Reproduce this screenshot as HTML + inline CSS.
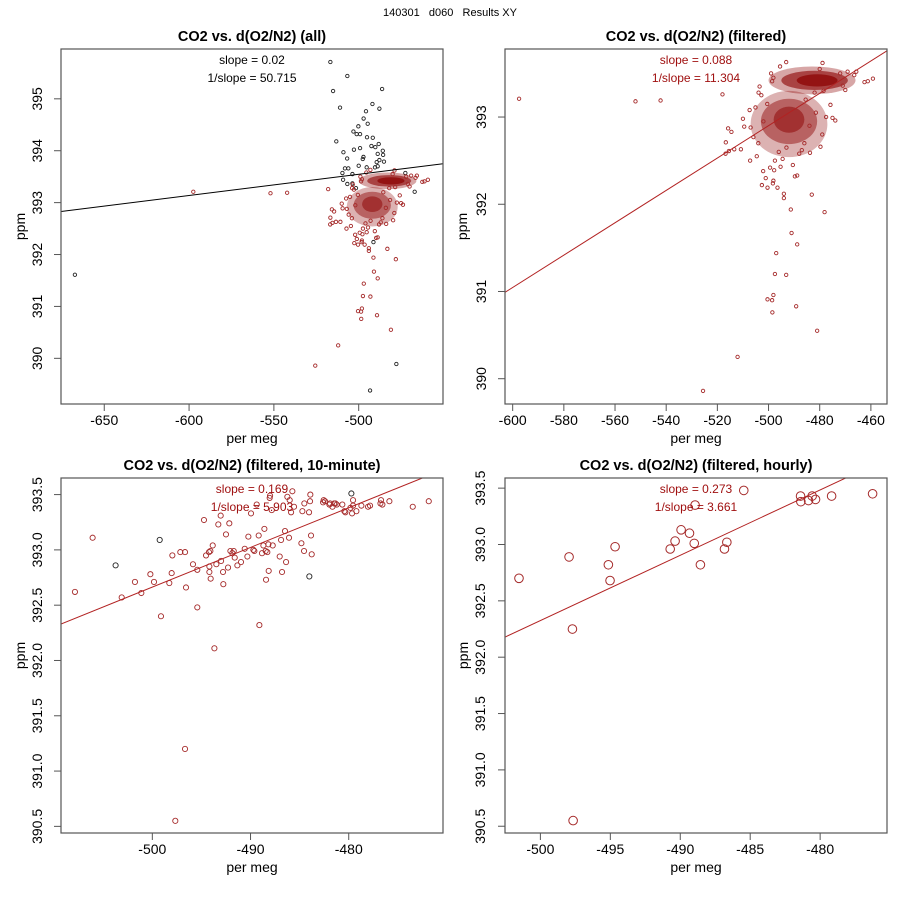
<!DOCTYPE html>
<html><head><meta charset="utf-8"><style>
html,body{margin:0;padding:0;background:#fff;}
svg{display:block;font-family:"Liberation Sans",Arial,sans-serif;}
</style></head><body>
<svg id="chart" width="900" height="900" viewBox="0 0 900 900">
<text x="450" y="16" text-anchor="middle" font-size="11" fill="#000">140301&#160;&#160;&#160;d060&#160;&#160;&#160;Results XY</text>
</svg>
<script>
// ---- Shared filtered (red) data, used in panels 1 & 2 ----
const redX = [-597.5,-552.0,-542.2,-518.0,-493.1,-478.9,-459.2,-461.2,-462.5,-465.7,-483.1,-478.1,-494.0,-494.0,-491.3,-491.0,-488.8,-497.0,-497.5,-493.1,-500.4,-498.6,-498.1,-498.5,-489.2,-481.0,-512.1,-525.6,-502.6,-501.1,-500.4,-498.3,-498.1,-496.5,-502.1,-499.4,-497.8,-495.3,-490.5,-489.7,-488.8,-475.0,-473.9,-475.8,-479.7,-483.8,-516.7,-515.8,-514.5,-513.4,-515.5,-516.8,-510.0,-507.4,-505.1,-503.9,-502.8,-509.5,-507.0,-505.9,-507.2,-510.8,-504.6,-498.6,-498.1,-472.0,-469.1,-504.0,-502.0,-500.5,-496.0,-494.5,-486.0,-484.0,-481.5,-479.0,-477.5,-503.5,-499.0,-495.5,-488.0,-485.5,-482.0,-480.0,-497.5,-493.0,-487.0,-478.5,-471.0,-466.5,-470.0];
const redY = [393.21,393.18,393.19,393.26,393.63,393.62,393.44,393.41,393.40,393.52,392.11,391.91,392.12,392.07,391.94,391.67,391.54,391.44,391.20,391.19,390.91,390.90,390.96,390.76,390.83,390.55,390.25,389.86,392.22,392.30,392.19,392.24,392.27,392.19,392.38,392.42,392.39,392.43,392.45,392.32,392.33,392.99,392.96,393.14,392.66,392.59,392.71,392.87,392.83,392.63,392.61,392.58,392.98,393.08,393.11,393.28,393.25,392.89,392.88,392.77,392.50,392.63,392.55,393.41,393.45,393.50,393.52,392.70,392.95,393.15,392.60,392.52,392.70,392.90,393.05,392.80,393.00,393.35,393.50,393.58,392.58,393.20,393.28,393.55,392.50,392.65,392.62,393.30,393.36,393.48,393.31];
// dense cluster summaries (centre / half-width / half-height in data units, opacity)
const clusterX = [-483,-482,-481,-492,-492,-492];
const clusterY = [393.42,393.42,393.42,392.92,392.95,392.97];
const clusterRx = [17,13,8,15,11,6];
const clusterRy = [0.16,0.11,0.07,0.38,0.26,0.15];
const clusterAlpha = [0.35,0.6,0.7,0.3,0.45,0.5];
// ---- Panel 1 rejected (black) points ----
const blackX = [-667.3,-516.7,-506.7,-515.1,-486.2,-491.9,-511.0,-487.8,-495.7,-497.1,-494.7,-500.2,-503.1,-501.2,-499.2,-495.1,-491.7,-513.2,-499.2,-502.8,-492.5,-490.2,-488.2,-485.8,-485.6,-509.0,-488.8,-497.2,-497.6,-506.8,-487.8,-489.4,-485.1,-500.0,-508.1,-506.1,-495.3,-490.4,-488.8,-509.6,-503.7,-509.2,-506.7,-503.7,-467.0,-491.3,-477.8,-493.3,-472.5,-501.6];
const blackY = [391.61,395.71,395.44,395.15,395.19,394.90,394.83,394.81,394.76,394.62,394.52,394.47,394.37,394.32,394.32,394.26,394.25,394.18,394.05,394.02,394.09,394.07,394.13,394.00,393.92,393.97,393.94,393.88,393.84,393.85,393.82,393.78,393.79,393.71,393.66,393.66,393.68,393.68,393.70,393.57,393.55,393.44,393.36,393.37,393.21,392.24,389.89,389.38,393.57,393.28];
// ---- Panel 3 (10-minute) ----
const tenX = [-507.88,-506.08,-503.74,-503.12,-501.77,-501.12,-500.20,-499.83,-499.25,-499.12,-498.27,-498.03,-497.96,-497.66,-497.15,-496.67,-496.67,-496.57,-495.86,-495.42,-495.42,-494.74,-494.53,-494.23,-494.19,-494.19,-494.09,-494.06,-493.85,-493.68,-493.48,-493.28,-493.04,-493.0,-492.80,-492.77,-492.50,-492.29,-492.16,-492.05,-491.85,-491.71,-491.61,-491.34,-490.97,-490.59,-490.32,-490.22,-489.95,-489.71,-489.61,-489.37,-489.17,-489.10,-488.83,-488.69,-488.59,-488.46,-488.42,-488.29,-488.18,-488.15,-488.05,-488.01,-487.84,-487.74,-487.03,-486.89,-486.79,-486.49,-486.38,-486.25,-486.08,-486.01,-485.87,-485.74,-485.57,-484.82,-484.72,-484.55,-484.52,-484.04,-484.01,-483.94,-483.91,-483.84,-483.77,-482.61,-482.55,-482.41,-481.97,-481.90,-481.66,-481.49,-481.36,-481.22,-480.65,-480.44,-480.34,-479.83,-479.73,-479.66,-479.56,-479.56,-479.22,-478.71,-478.03,-477.83,-476.77,-476.71,-476.57,-475.86,-473.48,-471.85];
const tenY = [392.62,393.11,392.86,392.57,392.71,392.61,392.78,392.71,393.09,392.40,392.70,392.79,392.95,390.55,392.98,392.98,391.20,392.66,392.87,392.82,392.48,393.27,392.95,392.98,392.85,392.80,392.99,392.74,393.04,392.11,392.87,393.23,393.31,392.90,392.80,392.69,393.14,392.84,393.24,392.99,392.97,392.99,392.93,392.86,392.89,393.01,392.94,393.12,393.33,393.00,392.99,393.41,393.13,392.32,392.97,393.04,393.19,392.99,392.73,392.98,393.05,392.81,393.47,393.49,393.36,393.04,392.94,393.09,392.80,393.17,392.89,393.48,393.11,393.45,393.34,393.53,393.39,393.06,393.35,392.99,393.42,393.34,392.76,393.44,393.50,393.13,392.96,393.43,393.45,393.44,393.41,393.42,393.39,393.42,393.42,393.41,393.41,393.35,393.34,393.38,393.51,393.33,393.45,393.40,393.35,393.40,393.39,393.40,393.42,393.45,393.41,393.44,393.39,393.44];
const tenBlack = [2,8,82,100];
// ---- Panel 4 (hourly) ----
const hourX = [-501.53,-497.95,-497.71,-497.66,-495.14,-495.02,-494.66,-490.72,-490.37,-489.94,-489.34,-489.0,-488.94,-488.56,-486.84,-486.67,-485.46,-481.40,-481.38,-480.83,-480.57,-480.33,-479.18,-476.25];
const hourY = [392.70,392.89,392.25,390.55,392.82,392.68,392.98,392.96,393.03,393.13,393.10,393.01,393.35,392.82,392.96,393.02,393.48,393.43,393.38,393.39,393.43,393.40,393.43,393.45];
// ---- fit lines (endpoints in data units) ----
const fit1X = [-675.5,-450.3], fit1Y = [392.83,393.75];
const fit2X = [-603.0,-453.7], fit2Y = [390.99,393.76];
const fit3X = [-509.3,-472.5], fit3Y = [392.33,393.65];
const fit4X = [-502.5,-478.0], fit4Y = [392.18,393.60];
// ---- ticks ----
const xt1 = [-650,-600,-550,-500], yt1 = [390,391,392,393,394,395];
const xt2 = [-600,-580,-560,-540,-520,-500,-480,-460], yt2 = [390,391,392,393];
const xt3 = [-500,-490,-480], yt3 = ["390.5","391.0","391.5","392.0","392.5","393.0","393.5"];
const xt4 = [-500,-495,-490,-485,-480], yt4 = ["390.5","391.0","391.5","392.0","392.5","393.0","393.5"];

const NS = "http://www.w3.org/2000/svg";
const svg = document.getElementById("chart");
function mk(tag, attrs, parent){ const e=document.createElementNS(NS,tag); for(const k in attrs) e.setAttribute(k,attrs[k]); (parent||svg).appendChild(e); return e; }

function panel(id, box, xd, yd, title, xt, yt, ylx, ppmx, slopes, slopeColor){
  const g = mk("g",{});
  
  
  const sx = v => box.x0 + (v - xd[0])/(xd[1]-xd[0])*(box.x1-box.x0);
  const sy = v => box.y1 - (v - yd[0])/(yd[1]-yd[0])*(box.y1-box.y0);
  const cp = mk("clipPath",{id:id+"-clip"},g);
  mk("rect",{x:box.x0,y:box.y0,width:box.x1-box.x0,height:box.y1-box.y0},cp);
  const plot = mk("g",{"clip-path":"url(#"+id+"-clip)"},g);
  
  
  const frame = mk("rect",{x:box.x0,y:box.y0,width:box.x1-box.x0,height:box.y1-box.y0,fill:"none",stroke:"#555","stroke-width":1.2},g);
  
  
  const t = mk("text",{x:(box.x0+box.x1)/2,y:box.y0-8,"text-anchor":"middle","font-size":14.5,"font-weight":"bold"},g);
  t.textContent = title;
  
  
  const xa = mk("g",{},g);
  
  
  mk("line",{x1:sx(xt[0]),x2:sx(xt[xt.length-1]),y1:box.y1,y2:box.y1,stroke:"#555"},xa);
  xt.forEach(v=>{
    mk("line",{x1:sx(v),x2:sx(v),y1:box.y1,y2:box.y1+7,stroke:"#555"},xa);
    const tx = mk("text",{x:sx(v),y:box.y1+21,"text-anchor":"middle","font-size":14},xa);
    tx.textContent = String(v);
    
    
  });
  const xl = mk("text",{x:(box.x0+box.x1)/2,y:box.y1+39,"text-anchor":"middle","font-size":14},g);
  xl.textContent = "per meg";
  
  
  const ya = mk("g",{},g);
  
  
  mk("line",{x1:box.x0,x2:box.x0,y1:sy(+yt[0]),y2:sy(+yt[yt.length-1]),stroke:"#555"},ya);
  yt.forEach(v=>{
    const y = sy(+v);
    mk("line",{x1:box.x0,x2:box.x0-7,y1:y,y2:y,stroke:"#555"},ya);
    const ty = mk("text",{x:ylx,y:y,"text-anchor":"middle","font-size":14,transform:"rotate(-90 "+ylx+" "+y+")"},ya);
    ty.textContent = String(v);
    
    
  });
  const cy=(box.y0+box.y1)/2;
  const yl = mk("text",{x:ppmx,y:cy,"text-anchor":"middle","font-size":14,transform:"rotate(-90 "+ppmx+" "+cy+")"},g);
  yl.textContent = "ppm";
  
  
  slopes.forEach((s,i)=>{
    const st = mk("text",{x:(box.x0+box.x1)/2,y:box.y0+15+i*18,"text-anchor":"middle","font-size":12,fill:slopeColor},g);
    st.textContent = s;
    
    
  });
  return {plot,sx,sy};
}
function dots(p, xs, ys, r, color, sw, name){
  xs.forEach((x,i)=>{
    const c = mk("circle",{cx:p.sx(x),cy:p.sy(ys[i]),r:r,fill:"none",stroke:typeof color==="function"?color(i):color,"stroke-width":sw},p.plot);
    
    
  });
}
function clusters(p){
  clusterX.forEach((x,i)=>{
    const e = mk("ellipse",{cx:p.sx(x),cy:p.sy(clusterY[i]),rx:Math.abs(p.sx(x+clusterRx[i])-p.sx(x)),ry:Math.abs(p.sy(clusterY[i]+clusterRy[i])-p.sy(clusterY[i])),fill:"#8b0000","fill-opacity":clusterAlpha[i]},p.plot);
    
    
  });
}
function fit(p, xs, ys, color){
  const l = mk("line",{x1:p.sx(xs[0]),y1:p.sy(ys[0]),x2:p.sx(xs[1]),y2:p.sy(ys[1]),stroke:color,"stroke-width":1},p.plot);
  
  
}
const LRED="#a52a2a", TXT="#a01010";

const p1 = panel("panel-all",{x0:61,x1:443,y0:49,y1:404},[-675.5,-450.3],[389.12,395.96],"CO2 vs. d(O2/N2) (all)",xt1,yt1,42,25,["slope = 0.02","1/slope = 50.715"],"#000");
dots(p1, blackX, blackY, 1.7, "#222", 0.9, "rejected-point");
clusters(p1);
dots(p1, redX, redY, 1.7, LRED, 0.9, "filtered-point");
fit(p1, fit1X, fit1Y, "#000");

const p2 = panel("panel-filtered",{x0:505,x1:887,y0:49,y1:404},[-603.0,-453.7],[389.71,393.78],"CO2 vs. d(O2/N2) (filtered)",xt2,yt2,486,467,["slope = 0.088","1/slope = 11.304"],TXT);
clusters(p2);
dots(p2, redX, redY, 1.7, LRED, 0.9, "filtered-point");
fit(p2, fit2X, fit2Y, "#b22222");

const p3 = panel("panel-10min",{x0:61,x1:443,y0:478,y1:833},[-509.3,-470.4],[390.44,393.65],"CO2 vs. d(O2/N2) (filtered, 10-minute)",xt3,yt3,42,25,["slope = 0.169","1/slope = 5.903"],TXT);
dots(p3, tenX, tenY, 2.6, i=>tenBlack.indexOf(i)>=0?"#222":LRED, 0.9, "ten-minute-point");
fit(p3, fit3X, fit3Y, "#b22222");

const p4 = panel("panel-hourly",{x0:505,x1:887,y0:478,y1:833},[-502.53,-475.22],[390.44,393.59],"CO2 vs. d(O2/N2) (filtered, hourly)",xt4,yt4,485,468,["slope = 0.273","1/slope = 3.661"],TXT);
dots(p4, hourX, hourY, 4.3, LRED, 1, "hourly-point");
fit(p4, fit4X, fit4Y, "#b22222");
</script>
</body></html>
